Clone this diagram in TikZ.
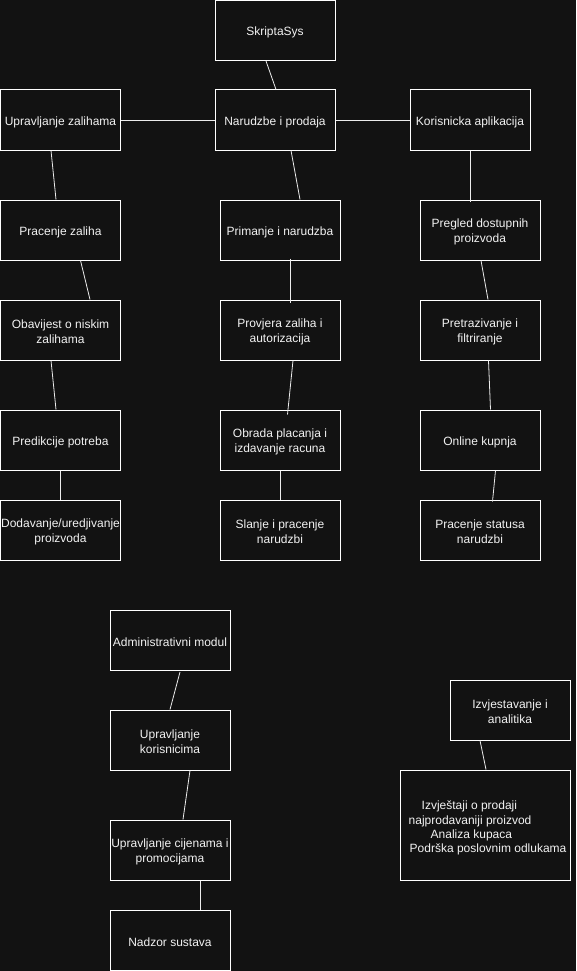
\documentclass[tikz,border=0pt]{standalone}
\usepackage{fontspec}
\setmainfont{Liberation Sans}
\definecolor{bgdark}{HTML}{121212}
\definecolor{inkwhite}{HTML}{F2F2F2}
\begin{document}
\begin{tikzpicture}[x=1pt,y=-1pt,
  boxtext/.style={text=inkwhite, inner sep=0pt, align=center, yshift=-2pt,
    font=\fontsize{12}{15}\selectfont},
  box/.style={draw=white, fill=bgdark, line width=1pt, minimum width=120pt,
    minimum height=60pt, inner sep=0pt},
  wide/.style={box, minimum width=170pt, minimum height=110pt},
  link/.style={draw=white!85!gray, line width=0.8pt},
  plain/.style={text=inkwhite, inner sep=0pt, anchor=west,
    font=\fontsize{12}{14.5}\selectfont}]
\fill[bgdark] (0,0) rectangle (576,971);
\useasboundingbox (0,0) rectangle (576,971);

% top level
\node[box, label={[boxtext]center:SkriptaSys}] (sys) at (275,30.5) {};
\node[box, label={[boxtext]center:Upravljanje zalihama}] (zal) at (60.5,120) {};
\node[box, label={[boxtext]center:Narudzbe i prodaja}] (nar) at (275,120) {};
\node[box, label={[boxtext]center:Korisnicka aplikacija}] (kor) at (470,120) {};

% stock column
\node[box, label={[boxtext]center:Pracenje zaliha}] (prz) at (60.5,230) {};
\node[box, label={[boxtext]center:{Obavijest o niskim\\zalihama}}] (obv) at (60.5,330) {};
\node[box, label={[boxtext]center:Predikcije potreba}] (pre) at (60.5,440) {};
\node[box, label={[boxtext]center:{Dodavanje/uredjivanje\\proizvoda}}] (dod) at (60.5,530) {};

% orders column
\node[box, label={[boxtext]center:Primanje i narudzba}] (pri) at (280,230) {};
\node[box, label={[boxtext]center:{Provjera zaliha i\\autorizacija}}] (prv) at (280,330) {};
\node[box, label={[boxtext]center:{Obrada placanja i\\izdavanje racuna}}] (obr) at (280,440) {};
\node[box, label={[boxtext]center:{Slanje i pracenje\\narudzbi}}] (sla) at (280,530) {};

% customer app column
\node[box, label={[boxtext]center:{Pregled dostupnih\\proizvoda}}] (pgl) at (480,230) {};
\node[box, label={[boxtext]center:{Pretrazivanje i\\filtriranje}}] (ptr) at (480,330) {};
\node[box, label={[boxtext]center:Online kupnja}] (onl) at (480,440) {};
\node[box, label={[boxtext]center:{Pracenje statusa\\narudzbi}}] (pst) at (480,530) {};

% administration
\node[box, label={[boxtext]center:Administrativni modul}] (adm) at (170,640) {};
\node[box, label={[boxtext]center:{Upravljanje\\korisnicima}}] (uko) at (170,740) {};
\node[box, label={[boxtext]center:{Upravljanje cijenama i\\promocijama}}] (ucp) at (170,850) {};
\node[box, label={[boxtext]center:Nadzor sustava}] (nad) at (170,940) {};

% reporting
\node[box, label={[boxtext]center:{Izvjestavanje i\\analitika}}] (izv) at (510,710) {};
\node[wide] (rep) at (485,825) {};
\node[plain] (r1) at (421.5,806.5) {Izvještaji o prodaji};
\node[plain] (r2) at (408.5,821) {najprodavaniji proizvod};
\node[plain] (r3) at (430.5,835) {Analiza kupaca};
\node[plain] (r4) at (409.5,849.5) {Podrška poslovnim odlukama};

% connectors
\draw[link] ([xshift=-9pt]sys.south) -- ([xshift=1pt]nar.north);
\draw[link] (zal.east) -- (nar.west);
\draw[link] (nar.east) -- (kor.west);

\draw[link] ([xshift=-9.5pt]zal.south) -- ([xshift=-4.5pt]prz.north);
\draw[link] ([xshift=20pt]prz.south) -- ([xshift=29.5pt]obv.north);
\draw[link] ([xshift=-9.5pt]obv.south) -- ([xshift=-4.5pt]pre.north);
\draw[link] (pre.south) -- (dod.north);

\draw[link] ([xshift=16pt]nar.south) -- ([xshift=20pt]pri.north);
\draw[link] ([xshift=10pt,yshift=2pt]pri.south) -- ([xshift=10pt,yshift=-3pt]prv.north);
\draw[link] ([xshift=13pt]prv.south) -- ([xshift=7.5pt,yshift=-5pt]obr.north);
\draw[link] ([xshift=0.5pt]obr.south) -- ([xshift=0.5pt]sla.north);

\draw[link] ([xshift=0.5pt]kor.south) -- ([xshift=-9.5pt,yshift=-2.5pt]pgl.north);
\draw[link] ([xshift=1pt]pgl.south) -- ([xshift=8pt]ptr.north);
\draw[link] ([xshift=8.5pt]ptr.south) -- ([xshift=10.5pt]onl.north);
\draw[link] ([xshift=15.5pt]onl.south) -- ([xshift=12.5pt,yshift=-2pt]pst.north);

\draw[link] ([xshift=10pt,yshift=-1.5pt]adm.south) -- (uko.north);
\draw[link] ([xshift=20pt]uko.south) -- ([xshift=13pt]ucp.north);
\draw[link] ([xshift=30pt]ucp.south) -- ([xshift=30pt]nad.north);

\draw[link] ([xshift=-30pt]izv.south) -- ([xshift=1pt]rep.north);
\end{tikzpicture}
\end{document}
